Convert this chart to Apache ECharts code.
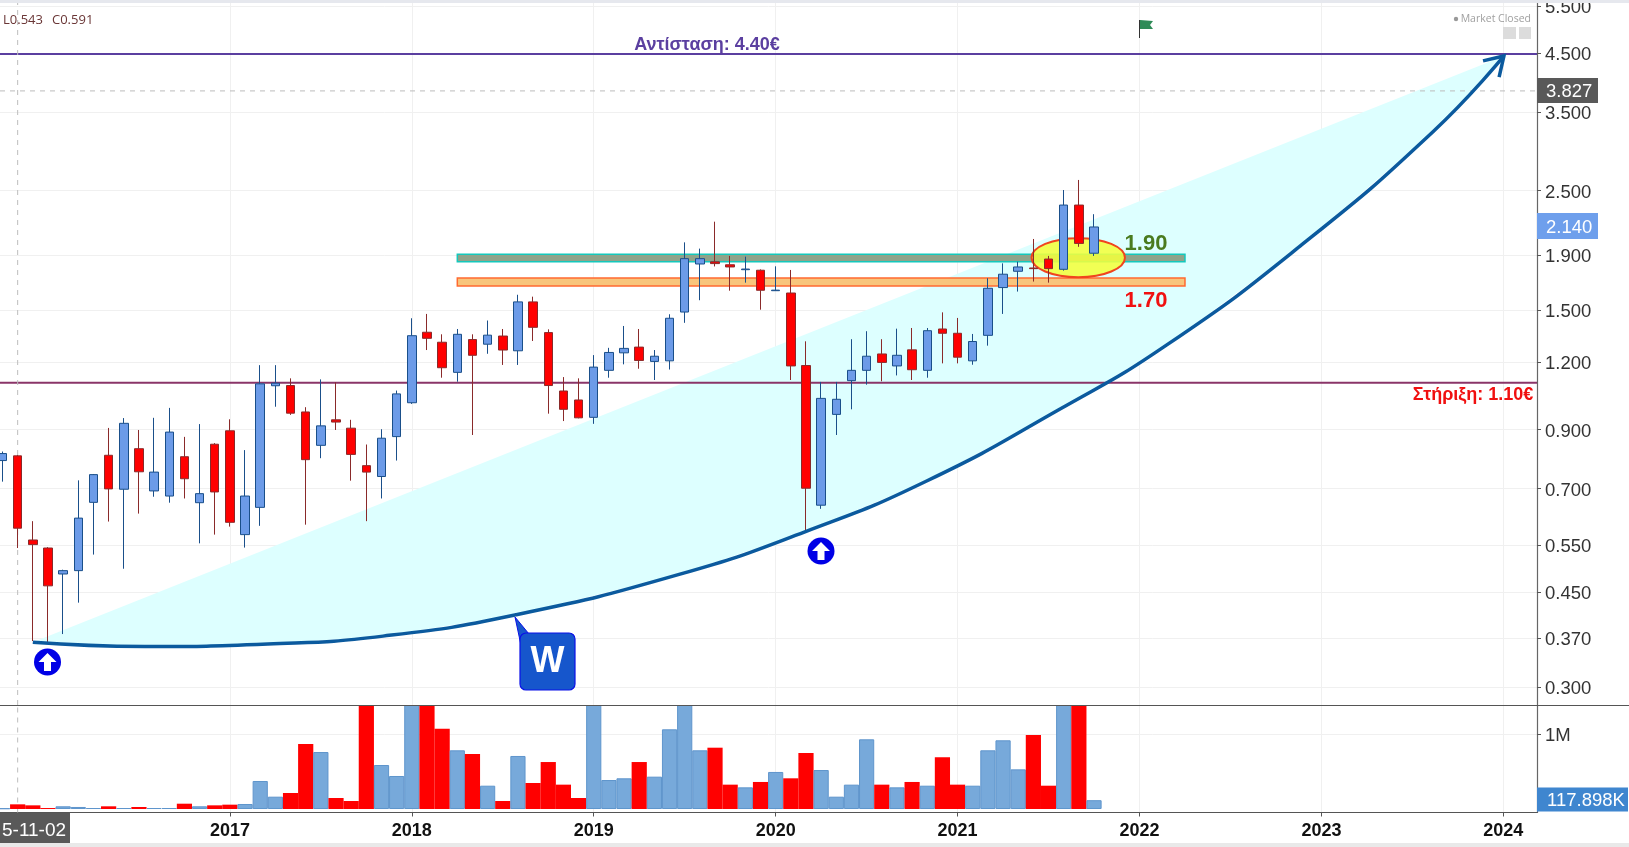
<!DOCTYPE html>
<html><head><meta charset="utf-8">
<style>html,body{margin:0;padding:0;background:#fff}#c{width:1629px;height:847px}</style>
<script src="https://cdn.jsdelivr.net/npm/echarts@6/dist/echarts.min.js"></script>
</head><body><div id="c"></div>
<script>
// Monthly candles, Oct 2015 (index 0) to Oct 2021 (index 72)
const opens=[0.789,0.805,0.562,0.543,0.486,0.493,0.660,0.807,0.698,0.830,0.693,0.678,0.802,0.659,0.846,0.896,0.575,0.646,1.086,1.087,0.971,0.842,0.939,0.906,0.772,0.737,0.874,1.010,1.365,1.308,1.150,1.323,1.297,1.343,1.261,1.554,1.363,1.062,1.022,0.949,1.160,1.250,1.281,1.205,1.208,1.488,1.827,1.844,1.821,1.783,1.779,1.630,1.614,1.184,0.652,0.961,1.110,1.160,1.244,1.182,1.266,1.160,1.384,1.359,1.208,1.347,1.652,1.771,1.796,1.866,1.786,2.350,1.913];
const closes=[0.813,0.591,0.551,0.462,0.493,0.617,0.743,0.699,0.925,0.752,0.751,0.891,0.730,0.685,0.690,0.606,0.678,1.095,1.098,0.966,0.792,0.915,0.930,0.810,0.751,0.868,1.049,1.345,1.330,1.173,1.353,1.237,1.348,1.265,1.554,1.394,1.087,0.982,0.947,1.176,1.252,1.274,1.210,1.232,1.449,1.869,1.869,1.830,1.804,1.788,1.633,1.634,1.182,0.701,1.029,1.025,1.160,1.232,1.200,1.237,1.163,1.374,1.359,1.227,1.312,1.647,1.749,1.804,1.791,1.791,2.350,1.995,2.140];
const lows=[0.721,0.543,0.365,0.361,0.376,0.430,0.528,0.608,0.497,0.629,0.676,0.659,0.671,0.554,0.575,0.595,0.544,0.597,0.993,0.959,0.600,0.797,0.899,0.724,0.609,0.671,0.789,1.005,1.265,1.124,1.105,0.880,1.245,1.187,1.187,1.315,0.964,0.934,0.945,0.923,1.124,1.190,1.168,1.113,1.164,1.421,1.565,1.808,1.630,1.687,1.503,1.628,1.113,0.580,0.642,0.880,0.982,1.091,1.107,1.135,1.113,1.124,1.195,1.195,1.188,1.289,1.476,1.624,1.695,1.687,1.776,1.966,1.891];
const highs=[0.820,0.808,0.609,0.545,0.495,0.725,0.745,0.907,0.946,0.899,0.947,0.988,0.873,0.922,0.850,0.941,0.825,1.186,1.186,1.121,0.991,1.116,1.102,0.939,0.845,0.902,1.064,1.449,1.476,1.353,1.384,1.353,1.435,1.384,1.602,1.589,1.382,1.127,1.121,1.238,1.277,1.402,1.384,1.265,1.474,2.004,1.951,2.189,1.891,1.885,1.785,1.809,1.781,1.313,1.104,1.104,1.325,1.371,1.325,1.386,1.390,1.390,1.486,1.451,1.355,1.719,1.832,1.845,2.033,1.891,2.506,2.616,2.260];
const volumes=[9000,62500,49000,13000,36000,27000,13000,36000,13000,27000,13000,13000,71000,36000,49000,58000,67000,375000,165000,214000,870000,763000,147000,107000,1500000,589000,442000,1600000,1800000,1076000,786000,737000,312000,107000,710000,348000,629000,326000,147000,1500000,388000,411000,629000,433000,1067000,1450000,786000,821000,326000,290000,362000,496000,411000,750000,522000,165000,326000,933000,326000,290000,362000,312000,692000,326000,312000,786000,920000,531000,991000,312000,1600000,1700000,117898];

const yearLabels=['2017','2018','2019','2020','2021','2022','2023','2024'];
const yearIndex=[15,27,39,51,63,75,87,99];
const priceTicks=[5.5,4.5,3.5,2.5,1.9,1.5,1.2,0.9,0.7,0.55,0.45,0.37,0.3];
const volumeTicks=[1000000];

// Hand-drawn annotations, read in month index / price
const curveMonth=[2,9.4,17.5,25.1,33.8,44.69,52.93,60.96,69.76,76.8,85.59,94.36,99.04];
const curvePrice=[0.363,0.3566,0.3603,0.3727,0.408,0.4856,0.5818,0.7229,0.983,1.293,1.972,3.215,4.443];
const arrowMonth=[97.66,99.04,98.72];
const arrowPrice=[4.35,4.443,4.06];
const resistanceLevel=4.48, supportLevel=1.10, lastPriceLine=3.827;
const zoneMonths=[30,78];
const zoneGreen=[1.845,1.905];
const zoneOrange=[1.663,1.72];
const ellipseMonths=[67.88,74.04];
const ellipsePrices=[1.727,2.04];

const X_MIN=-0.165, X_MAX=101.22, P_MIN=0.2777, P_MAX=5.571;
const FONT='"Liberation Sans", Arial, sans-serif';
const pairs=(a,b)=>a.map((v,i)=>[v,b[i]]);

const candleData=opens.map((o,i)=>[i,o,closes[i],lows[i],highs[i]]);
const volData=volumes.map((v,i)=>{
  const up=closes[i]>=opens[i];
  return {value:[i,v],itemStyle:{color:up?'#77a9da':'#ff0000',borderColor:up?'#5f95cc':'#ff0000',borderWidth:up?1:0}};
});
function level(v,color,width,type,z){
  return {type:'line',xAxisIndex:0,yAxisIndex:0,data:[[X_MIN,v],[X_MAX,v]],symbol:'none',silent:true,z:z,animation:false,
    lineStyle:{color:color,width:width,type:type||'solid'}};
}
function txt(text,x,y,font,fill,align){
  return {type:'text',z:50,silent:true,style:{text:text,x:x,y:y,font:font,fill:fill,textAlign:align||'left',textVerticalAlign:'middle'}};
}
function badge(x,y,w,h,fill,text,tx){
  return [{type:'rect',z:48,silent:true,shape:{x:x,y:y,width:w,height:h},style:{fill:fill}},
          txt(text,tx,y+h/2+1.5,'18.5px '+FONT,'#fff')];
}
function upCircle(cx,cy){
  return [
   {type:'circle',z:45,silent:true,shape:{cx:cx,cy:cy,r:13.5},style:{fill:'#0000e6'}},
   {type:'polygon',z:46,silent:true,shape:{points:[[cx,cy-9],[cx+9,cy],[cx+3.5,cy],[cx+3.5,cy+9],[cx-3.5,cy+9],[cx-3.5,cy],[cx-9,cy]]},style:{fill:'#fff'}}
  ];
}
const graphics=[
  {type:'rect',z:60,silent:true,shape:{x:0,y:0,width:1629,height:3},style:{fill:'#e6e8ee'}},
  {type:'rect',z:40,silent:true,shape:{x:0,y:843,width:1629,height:4},style:{fill:'#e9e9e9'}},
  {type:'line',z:30,silent:true,shape:{x1:0,y1:705.5,x2:1629,y2:705.5},style:{stroke:'#555',lineWidth:1.2}},
  txt('L0.543',3,20,'13px "Open Sans", '+FONT,'#6a3636'),
  txt('C0.591',52,20,'13px "Open Sans", '+FONT,'#6a3636'),
  txt('Αντίσταση: 4.40€',707,45.5,'bold 18px '+FONT,'#5b3fa0','center'),
  txt('Στήριξη: 1.10€',1473,395.5,'bold 18px '+FONT,'#f01010','center'),
  txt('1.90',1146,244,'bold 22px '+FONT,'#4a7b1f','center'),
  txt('1.70',1146,300.5,'bold 22px '+FONT,'#f01010','center'),
  {type:'circle',z:50,silent:true,shape:{cx:1456,cy:19,r:2.2},style:{fill:'#999'}},
  txt('Market Closed',1531,19.5,'10.5px "Open Sans", '+FONT,'#a0a0a0','right'),
  {type:'rect',z:50,silent:true,shape:{x:1503,y:27,width:13,height:12},style:{fill:'#dcdcdc'}},
  {type:'rect',z:50,silent:true,shape:{x:1519,y:27,width:12,height:12},style:{fill:'#dcdcdc'}},
  {type:'line',z:50,silent:true,shape:{x1:1139.5,y1:20,x2:1139.5,y2:38},style:{stroke:'#333',lineWidth:1}},
  {type:'polygon',z:50,silent:true,shape:{points:[[1140,20],[1153,21],[1150,25],[1153,29],[1140,29]]},style:{fill:'#2e8b57'}},
  ...upCircle(47.5,662),
  ...upCircle(821,551),
  {type:'polygon',z:44,silent:true,shape:{points:[[515,617],[529,634],[522,650]]},style:{fill:'#1656cc',stroke:'#0a10e8',lineWidth:1}},
  {type:'rect',z:45,silent:true,shape:{x:520,y:633,width:55,height:57,r:6},style:{fill:'#1656cc',stroke:'#0a10e8',lineWidth:1.2}},
  txt('W',547.5,662.5,'bold 36px '+FONT,'#fff','center'),
  ...badge(1537,78,61,25,'#595959','3.827',1546),
  ...badge(1537,213,61,26,'#6e9fec','2.140',1546),
  ...badge(1537,787.5,91,24,'#3f86cf','117.898K',1547),
  {type:'rect',z:48,silent:true,shape:{x:0,y:813,width:70,height:30},style:{fill:'#595959'}},
  txt('5-11-02',2,830.5,'19px '+FONT,'#fff')
];

const option={
  animation:false,
  backgroundColor:'#ffffff',
  textStyle:{fontFamily:FONT},
  grid:[
    {left:0,width:1537,top:3,height:702,outerBoundsMode:'none',containLabel:false},
    {left:0,width:1537,top:705.5,height:107,outerBoundsMode:'none',containLabel:false}
  ],
  xAxis:[
    {type:'value',gridIndex:0,min:X_MIN,max:X_MAX,axisLine:{show:false},
     axisTick:{show:false,customValues:yearIndex},axisLabel:{show:false,customValues:yearIndex},
     splitLine:{show:true,lineStyle:{color:'#f0f0f0'}}},
    {type:'value',gridIndex:1,min:X_MIN,max:X_MAX,
     axisLine:{show:true,onZero:false,lineStyle:{color:'#555',width:1.2}},
     axisTick:{show:true,length:4,lineStyle:{color:'#555'},customValues:yearIndex},
     axisLabel:{show:true,customValues:yearIndex,margin:10,fontSize:18,fontWeight:'bold',color:'#111',fontFamily:FONT,
       formatter:v=>yearLabels[yearIndex.indexOf(Math.round(v))]||''},
     splitLine:{show:true,lineStyle:{color:'#f0f0f0'}}}
  ],
  yAxis:[
    {type:'log',logBase:10,gridIndex:0,position:'right',min:P_MIN,max:P_MAX,
     axisLine:{show:true,onZero:false,lineStyle:{color:'#666',width:1.2}},
     axisTick:{show:true,length:4,lineStyle:{color:'#555'},customValues:priceTicks},
     axisLabel:{show:true,customValues:priceTicks,margin:8,verticalAlign:'top',lineHeight:4,fontSize:18.5,color:'#333',fontFamily:FONT,
       formatter:v=>Number(v).toFixed(3)},
     splitLine:{show:true,lineStyle:{color:'#f0f0f0'}}},
    {type:'value',gridIndex:1,position:'right',min:-46900,max:1386000,
     axisLine:{show:true,onZero:false,lineStyle:{color:'#666',width:1.2}},
     axisTick:{show:true,length:4,lineStyle:{color:'#555'},customValues:volumeTicks},
     axisLabel:{show:true,customValues:volumeTicks,margin:8,verticalAlign:'top',lineHeight:4,fontSize:18.5,color:'#333',fontFamily:FONT,
       formatter:()=>'1M'},
     splitLine:{show:true,lineStyle:{color:'#f0f0f0'}}}
  ],
  series:[
    {type:'custom',name:'wedge',xAxisIndex:0,yAxisIndex:0,z:1,silent:true,animation:false,
     data:[[0]],
     renderItem:(p,api)=>({type:'polygon',shape:{points:pairs(curveMonth,curvePrice).map(d=>api.coord(d))},style:{fill:'#ddffff'}})},
    level(resistanceLevel,'#5b3fa0',2,'solid',2),
    level(supportLevel,'#8a3568',2,'solid',2),
    level(lastPriceLine,'#bdbdbd',1,[5,5],2),
    {type:'line',xAxisIndex:0,yAxisIndex:0,data:[[1,P_MIN],[1,P_MAX]],symbol:'none',silent:true,z:2,animation:false,
     lineStyle:{color:'#bdbdbd',width:1,type:[5,5]}},
    {type:'line',xAxisIndex:1,yAxisIndex:1,data:[[1,-46900],[1,1386000]],symbol:'none',silent:true,z:2,animation:false,
     lineStyle:{color:'#bdbdbd',width:1,type:[5,5]}},
    {type:'custom',name:'zones',xAxisIndex:0,yAxisIndex:0,z:3,silent:true,animation:false,
     data:[[0],[1]],
     renderItem:(p,api)=>{
       const r=p.dataIndex===0?zoneGreen:zoneOrange;
       const a=api.coord([zoneMonths[0],r[1]]), b=api.coord([zoneMonths[1],r[0]]);
       return {type:'rect',shape:{x:a[0],y:a[1],width:b[0]-a[0],height:b[1]-a[1]},
         style:p.dataIndex===0?{fill:'#8fa38a',stroke:'#14c8bc',lineWidth:1.5}:{fill:'#f8c57c',stroke:'#ff6a30',lineWidth:1.5}};
     }},
    {type:'custom',name:'ellipse',xAxisIndex:0,yAxisIndex:0,z:4,silent:true,animation:false,
     data:[[0]],
     renderItem:(p,api)=>{
       const a=api.coord([ellipseMonths[0],ellipsePrices[1]]), b=api.coord([ellipseMonths[1],ellipsePrices[0]]);
       return {type:'ellipse',shape:{cx:(a[0]+b[0])/2,cy:(a[1]+b[1])/2,rx:(b[0]-a[0])/2,ry:(b[1]-a[1])/2},
         style:{fill:'rgba(244,255,60,0.88)',stroke:'#f0451e',lineWidth:2}};
     }},
    {type:'candlestick',name:'price',xAxisIndex:0,yAxisIndex:0,z:5,silent:true,animation:false,
     data:candleData,encode:{x:0,y:[1,2,3,4]},barWidth:9,
     itemStyle:{color:'#6c9be8',color0:'#ff0000',borderColor:'#1a4f8a',borderColor0:'#8a2a2a',borderWidth:1}},
    {type:'line',name:'curve',xAxisIndex:0,yAxisIndex:0,z:6,silent:true,animation:false,
     data:pairs(curveMonth,curvePrice),smooth:0.5,symbol:'none',lineStyle:{color:'#0b5a9e',width:3.5}},
    {type:'custom',name:'arrow',xAxisIndex:0,yAxisIndex:0,z:6,silent:true,animation:false,
     data:[[0]],
     renderItem:(p,api)=>({type:'polyline',shape:{points:pairs(arrowMonth,arrowPrice).map(d=>api.coord(d))},
       style:{fill:'none',stroke:'#0b5a9e',lineWidth:3.5}})},
    {type:'bar',name:'volume',xAxisIndex:1,yAxisIndex:1,z:3,silent:true,animation:false,
     data:volData,barWidth:15.2}
  ],
  graphic:{elements:graphics}
};
const chart=echarts.init(document.getElementById('c'),null,{renderer:'canvas',width:1629,height:847});
chart.setOption(option);
</script></body></html>
